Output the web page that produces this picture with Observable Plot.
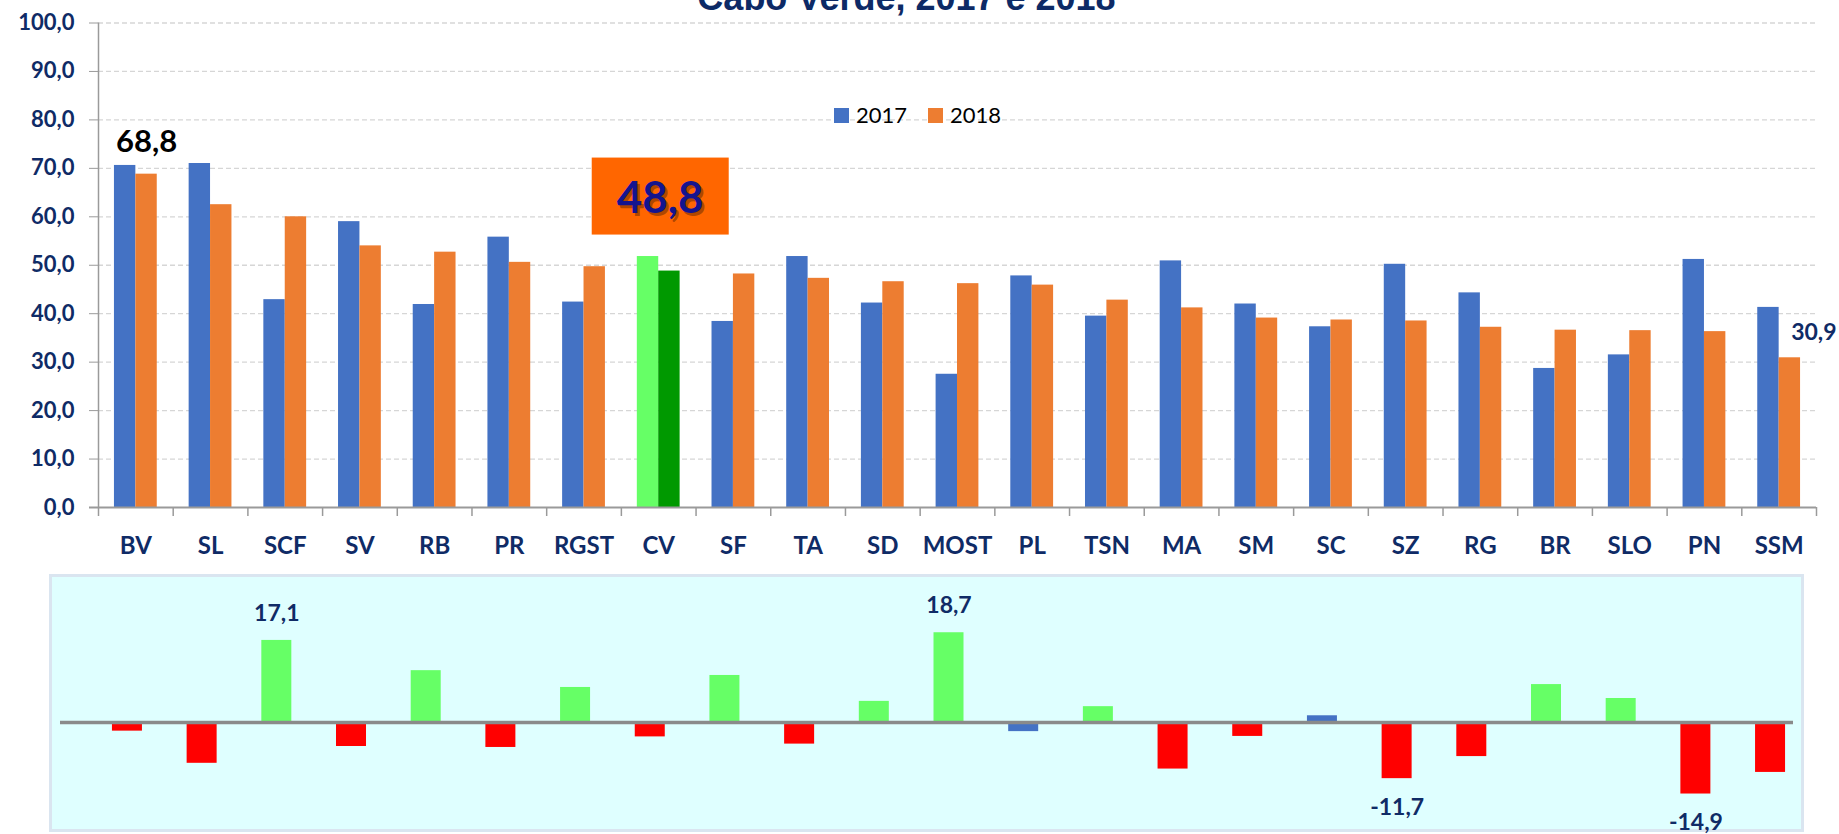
<!DOCTYPE html>
<html>
<head>
<meta charset="utf-8">
<script src="https://cdn.jsdelivr.net/npm/d3@7"></script>
<script src="https://cdn.jsdelivr.net/npm/@observablehq/plot@0.6"></script>
<style>
  html, body { margin: 0; padding: 0; background: #ffffff; }
  #root { position: relative; width: 1839px; height: 834px; overflow: hidden; }
  #title { position: absolute; left: 0; top: -20.5px; width: 1813px; text-align: center; font-family: "Liberation Sans", Arial, sans-serif; font-weight: bold; font-size: 36px; line-height: 36px; color: #0d2a66; white-space: nowrap; }
  #topChart { position: absolute; left: 0; top: 0; }
  #legend { position: absolute; left: 834px; top: 104px; height: 22px; display: flex; align-items: center; font-family: Lato, "Open Sans", sans-serif; font-size: 22px; line-height: 22px; color: #000; }
  #legend .item { display: flex; align-items: center; margin-right: 21px; }
  #legend .sw { display: inline-block; width: 15px; height: 15px; margin-right: 7px; }
  #panel { position: absolute; left: 49px; top: 574px; width: 1755px; height: 258px; box-sizing: border-box; background: #dfffff; border: 3px solid #dae5f0; }
  #bottomChart { position: absolute; left: 0; top: 574px; }
  svg { overflow: visible; }
</style>
</head>
<body>
<div id="root">
  <div id="title"></div>
  <div id="topChart"></div>
  <div id="legend"></div>
  <div id="panel"></div>
  <div id="bottomChart"></div>
</div>
<script>
// ---------------- DATA ----------------
const titleText = "Cabo Verde, 2017 e 2018";
const categories = ["BV","SL","SCF","SV","RB","PR","RGST","CV","SF","TA","SD","MOST","PL","TSN","MA","SM","SC","SZ","RG","BR","SLO","PN","SSM"];
const years = ["2017", "2018"];
const values2017 = [70.6,71.0,42.9,59.0,41.9,55.8,42.4,51.8,38.4,51.8,42.2,27.5,47.8,39.5,50.9,42.0,37.3,50.2,44.3,28.7,31.5,51.2,41.3];
const values2018 = [68.8,62.5,60.0,54.0,52.7,50.6,49.7,48.8,48.2,47.3,46.6,46.2,45.9,42.8,41.2,39.1,38.7,38.5,37.2,36.6,36.5,36.3,30.9];
const change = [-1.8,-8.5,17.1,-5.0,10.8,-5.2,7.3,-3.0,9.8,-4.5,4.4,18.7,-1.9,3.3,-9.7,-2.9,1.4,-11.7,-7.1,7.9,5.0,-14.9,-10.4];
const yTicks = [0,10,20,30,40,50,60,70,80,90,100];
const highlightCat = "CV";
const stableCats = ["PL","SC"];
const labeledChange = ["SCF","MOST","SZ","PN"];
const bigLabelCat = "BV";
const sideLabelCat = "SSM";

// ---------------- STYLE ----------------
const C = {y2017: "#4472C4", y2018: "#ED7D31", hi2017: "#66FF66", hi2018: "#009900",
           up: "#66FF66", down: "#FF0000", stable: "#4472C4"};
const navy = "#0f2b66";
const font = "Lato, 'Open Sans', sans-serif";
const fmt = v => v.toFixed(1).replace(".", ",");

const rows2017 = categories.map((cat, i) => ({cat, value: values2017[i]}));
const rows2018 = categories.map((cat, i) => ({cat, value: values2018[i]}));
const changeRows = categories.map((cat, i) => ({cat, value: change[i]}));

document.getElementById("title").textContent = titleText;

// legend
const legend = d3.select("#legend");
[[years[0], C.y2017], [years[1], C.y2018]].forEach(([label, col]) => {
  const it = legend.append("div").attr("class", "item");
  it.append("span").attr("class", "sw").style("background", col);
  it.append("span").text(label);
});

// ---------------- TOP CHART ----------------
const W = 1839;
const mL = 98, mR = 23;
const padIn = 0.427;
const step = (W - mL - mR) / categories.length;
const bw = step * (1 - padIn);

function cvBox(index, scales) {
  const sx = scales.x, sy = scales.y;
  let band = 0;
  if (typeof sx.bandwidth === "function") band = sx.bandwidth();
  else if (scales.scales && scales.scales.x && scales.scales.x.bandwidth != null) band = scales.scales.x.bandwidth;
  const d = rows2018.find(r => r.cat === highlightCat);
  const cx = sx(d.cat) + band / 2 + 2;
  const yTop = sy(d.value);
  const g = d3.create("svg:g");
  g.append("rect").attr("x", cx - 68.5).attr("y", yTop - 113).attr("width", 137).attr("height", 77).attr("fill", "#FF6600");
  g.append("text").attr("x", cx + 2.5).attr("y", yTop - 72).attr("text-anchor", "middle").attr("dominant-baseline", "central")
    .attr("font-family", font).attr("font-weight", "bold").attr("font-size", 44).attr("fill", "#6b2a00").attr("fill-opacity", 0.55)
    .text(fmt(d.value));
  g.append("text").attr("x", cx).attr("y", yTop - 74.5).attr("text-anchor", "middle").attr("dominant-baseline", "central")
    .attr("font-family", font).attr("font-weight", "bold").attr("font-size", 44).attr("fill", "#14148f")
    .text(fmt(d.value));
  return g.node();
}

const topPlot = Plot.plot({
  width: W, height: 572,
  marginLeft: mL, marginRight: mR, marginTop: 22.5, marginBottom: 65,
  style: {background: "transparent", overflow: "visible", fontFamily: font, maxWidth: "none"},
  x: {domain: categories, paddingInner: padIn, paddingOuter: padIn / 2, round: false, label: null},
  y: {domain: [0, 100], label: null},
  color: {type: "identity"},
  marks: [
    Plot.gridY(yTicks.slice(1), {stroke: "#d6d6d6", strokeOpacity: 1, strokeWidth: 1.3, strokeDasharray: "5,3"}),
    Plot.barY(rows2017, {x: "cat", y: "value", fill: d => d.cat === highlightCat ? C.hi2017 : C.y2017, insetLeft: 0, insetRight: bw / 2}),
    Plot.barY(rows2018, {x: "cat", y: "value", fill: d => d.cat === highlightCat ? C.hi2018 : C.y2018, insetLeft: bw / 2, insetRight: 0}),
    Plot.ruleY([0], {stroke: "#9a9a9a", strokeWidth: 2, insetLeft: -9}),
    Plot.ruleX([categories[0]], {y1: 0, y2: 100, dx: -step / 2, stroke: "#9a9a9a", strokeWidth: 1.5}),
    Plot.axisY(yTicks, {tickSize: 9, tickPadding: 15, tickFormat: fmt, fontSize: 22, fontWeight: "bold", fontFamily: font, fill: navy, stroke: "#9a9a9a", label: null}),
    Plot.axisX({tickSize: 9, fill: "none", stroke: "#9a9a9a", strokeWidth: 1.5, dx: -step / 2, label: null}),
    Plot.axisX([categories[categories.length - 1]], {tickSize: 9, fill: "none", stroke: "#9a9a9a", strokeWidth: 1.5, dx: step / 2, label: null}),
    Plot.axisX({tickSize: 0, tickPadding: 29, fontSize: 24, fontWeight: "bold", fontFamily: font, fill: navy, label: null}),
    Plot.text(rows2018.filter(d => d.cat === bigLabelCat), {x: "cat", y: "value", text: d => fmt(d.value), dx: bw / 4, dy: -32, fontSize: 31, fontWeight: "bold", fontFamily: font, fill: "#000"}),
    Plot.text(rows2018.filter(d => d.cat === sideLabelCat), {x: "cat", y: "value", text: d => fmt(d.value), dx: bw / 4 + 24, dy: -25, fontSize: 23, fontWeight: "bold", fontFamily: font, fill: navy}),
    cvBox
  ]
});
document.getElementById("topChart").appendChild(topPlot);

// ---------------- BOTTOM CHART ----------------
const bL = 89.6, bR = 31.6;
const bStep = (W - bL - bR) / categories.length;
const bPadIn = 1 - 30 / bStep;
const changeFill = d => stableCats.includes(d.cat) ? C.stable : (d.value > 0 ? C.up : C.down);

const bottomPlot = Plot.plot({
  width: W, height: 258,
  marginLeft: bL, marginRight: bR, marginTop: 4, marginBottom: 14,
  style: {background: "transparent", overflow: "visible", fontFamily: font, maxWidth: "none"},
  x: {domain: categories, paddingInner: bPadIn, paddingOuter: bPadIn / 2, round: false, axis: null},
  y: {domain: [-20, 30], axis: null},
  color: {type: "identity"},
  marks: [
    Plot.barY(changeRows, {x: "cat", y: "value", fill: changeFill}),
    Plot.ruleY([0], {stroke: "#8a8a8a", strokeWidth: 3.5, insetLeft: -29.6, insetRight: 14.4}),
    Plot.text(changeRows.filter(d => labeledChange.includes(d.cat) && d.value > 0), {x: "cat", y: "value", text: d => fmt(d.value), dy: -27, fontSize: 23, fontWeight: "bold", fontFamily: font, fill: navy}),
    Plot.text(changeRows.filter(d => labeledChange.includes(d.cat) && d.value < 0), {x: "cat", y: "value", text: d => fmt(d.value), dy: 29, fontSize: 23, fontWeight: "bold", fontFamily: font, fill: navy})
  ]
});
document.getElementById("bottomChart").appendChild(bottomPlot);
</script>
</body>
</html>
